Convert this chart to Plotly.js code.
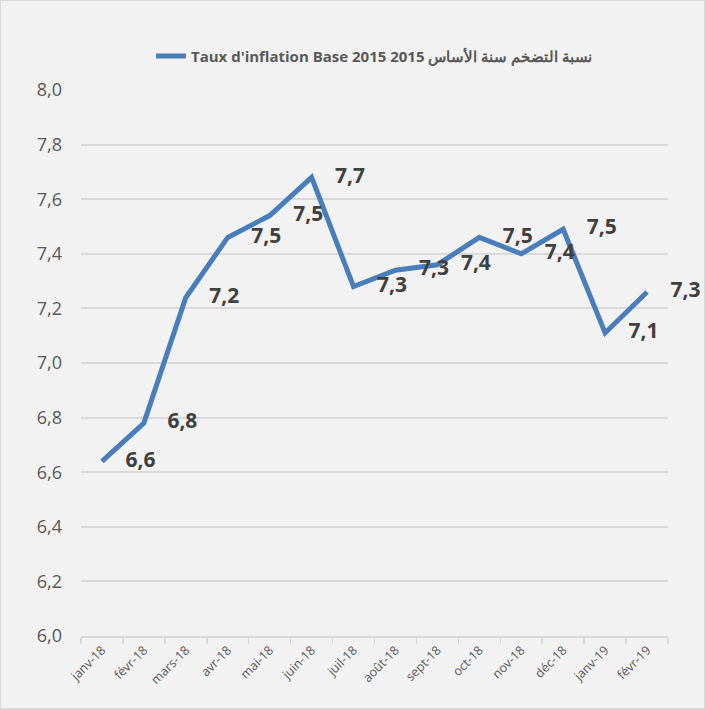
<!DOCTYPE html>
<html>
<head>
<meta charset="utf-8">
<script src="https://cdn.plot.ly/plotly-3.0.1.min.js"></script>
<style>
html,body{margin:0;padding:0;background:#ffffff;}
#chart{width:703px;height:707px;border:1px solid #d9d9d9;background:#f2f2f2;}
</style>
</head>
<body>
<div id="chart"></div>
<script>
const categories = ["janv-18","févr-18","mars-18","avr-18","mai-18","juin-18","juil-18","août-18","sept-18","oct-18","nov-18","déc-18","janv-19","févr-19"];
const inflation = [6.64, 6.78, 7.24, 7.46, 7.54, 7.68, 7.28, 7.34, 7.36, 7.46, 7.40, 7.49, 7.11, 7.26];
const seriesName = "Taux d'inflation Base 2015 نسبة التضخم سنة الأساس 2015";
const yTicks = [6.0, 6.2, 6.4, 6.6, 6.8, 7.0, 7.2, 7.4, 7.6, 7.8, 8.0];

const lineTrace = {
  type: "scatter",
  mode: "lines",
  x: categories,
  y: inflation,
  name: seriesName,
  line: {color: "#4a7ebb", width: 5},
  hoverinfo: "skip"
};

const labelTrace = {
  type: "scatter",
  mode: "markers+text",
  x: categories,
  y: inflation,
  showlegend: false,
  marker: {size: 36, color: "rgba(0,0,0,0)"},
  texttemplate: "%{y:.1f}",
  textposition: "middle right",
  textfont: {family: "Open Sans, sans-serif", size: 21, color: "#404040", weight: "bold"},
  cliponaxis: false,
  hoverinfo: "skip"
};

const layout = {
  width: 703, height: 707,
  paper_bgcolor: "#f2f2f2",
  plot_bgcolor: "#f2f2f2",
  separators: ", ",
  margin: {l: 80, r: 36, t: 89, b: 72},
  showlegend: true,
  legend: {
    orientation: "h",
    x: 0.5, xanchor: "center",
    y: 1.062, yanchor: "middle",
    font: {family: "Open Sans, sans-serif", size: 15, color: "#595959", weight: "bold"},
    bgcolor: "rgba(0,0,0,0)"
  },
  xaxis: {
    type: "category",
    range: [-0.5, categories.length - 0.5],
    tickangle: -45,
    tickfont: {family: "Open Sans, sans-serif", size: 12.5, color: "#595959"},
    showgrid: false,
    showline: true,
    linecolor: "#d9d9d9",
    linewidth: 2,
    ticks: "outside",
    tickson: "boundaries",
    ticklen: 6,
    tickcolor: "#d9d9d9",
    tickwidth: 1.5,
    zeroline: false,
    fixedrange: true
  },
  yaxis: {
    range: [6.0, 8.0],
    tickvals: yTicks,
    tickformat: ".1f",
    tickfont: {family: "Open Sans, sans-serif", size: 18, color: "#595959"},
    showgrid: true,
    gridcolor: "#d9d9d9",
    gridwidth: 2,
    showline: false,
    zeroline: false,
    ticks: "",
    ticklabelstandoff: 18,
    fixedrange: true
  }
};

Plotly.newPlot("chart", [lineTrace, labelTrace], layout, {displayModeBar: false, staticPlot: true});
</script>
</body>
</html>
